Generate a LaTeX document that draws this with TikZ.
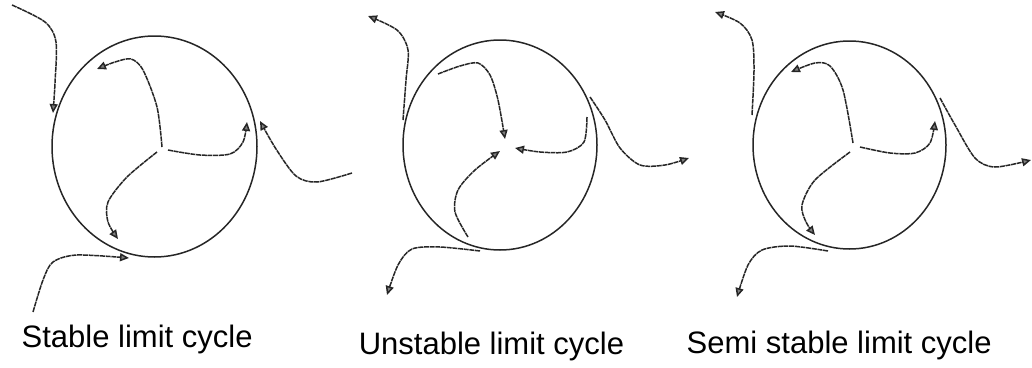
\documentclass[tikz,border=0pt]{standalone}
\usepackage{fontspec}
\setmainfont{Liberation Sans}
\usetikzlibrary{arrows.meta}
\begin{document}
\begin{tikzpicture}[x=1pt,y=-1pt,
  cyc/.style={line width=1.5pt, black!85},
  traj/.style={line width=1.5pt, black!85, dash pattern=on 5pt off 0.7pt, -{Triangle[length=9pt,width=8pt,fill=black!50]}},
  lbl/.style={anchor=base west, inner sep=0pt, font=\fontsize{31}{36}\selectfont}]
\useasboundingbox (0,0) rectangle (1032,367);
% ---- panel 1: stable
\draw[cyc] (154.5,146.5) ellipse [x radius=102.5, y radius=110.5];
\draw[traj] plot[smooth] coordinates {(162,147) (157,107) (143,70) (131,59) (115,62) (97,69)};
\draw[traj] plot[smooth] coordinates {(168,150) (200,155) (230,154) (243,142) (247,122)};
\draw[traj] plot[smooth] coordinates {(157,152) (127,177) (108,202) (108,222) (118,239)};
\draw[traj] plot[smooth] coordinates {(12,5) (45,22) (56,42) (55,83) (53,113)};
\draw[traj] plot[smooth] coordinates {(352,173) (317,182) (296,176) (276,149) (260,121)};
\draw[traj] plot[smooth] coordinates {(33,312) (43,280) (53,262) (77,255) (129,258)};
% ---- panel 2: unstable
\draw[cyc] (500,145) ellipse [x radius=97, y radius=105];
\draw[traj] plot[smooth] coordinates {(438,74) (460,66) (478,63) (490,75) (498,100) (505,139)};
\draw[traj] plot[smooth] coordinates {(587,117) (584,142) (567,152) (540,152) (515,148)};
\draw[traj] plot[smooth] coordinates {(468,237) (455,212) (458,190) (475,170) (500,151)};
\draw[traj] plot[smooth] coordinates {(403,120) (406,80) (408,50) (397,30) (368,16)};
\draw[traj] plot[smooth] coordinates {(590,97) (605,120) (620,148) (640,165) (665,165) (689,158)};
\draw[traj] plot[smooth] coordinates {(480,251) (440,247) (412,249) (398,265) (387,295)};
% ---- panel 3: semi stable
\draw[cyc] (849.5,145) ellipse [x radius=96.5, y radius=104];
\draw[traj] plot[smooth] coordinates {(853,143) (843,90) (830,66) (815,63) (791,72)};
\draw[traj] plot[smooth] coordinates {(860,147) (890,153) (915,153) (930,143) (935,121)};
\draw[traj] plot[smooth] coordinates {(850,152) (815,180) (802,205) (806,222) (815,235)};
\draw[traj] plot[smooth] coordinates {(752,115) (754,70) (752,40) (740,23) (715,12)};
\draw[traj] plot[smooth] coordinates {(940,98) (955,125) (975,158) (995,167) (1031,160)};
\draw[traj] plot[smooth] coordinates {(828,251) (790,246) (762,250) (748,265) (737,297)};
% ---- labels
\node[lbl] (l1) at (21.5,347.7) {Stable limit cycle};
\node[lbl] (l2) at (358.6,354.5) {Unstable limit cycle};
\node[lbl] (l3) at (686.5,353) {Semi stable limit cycle};
\end{tikzpicture}
\end{document}
